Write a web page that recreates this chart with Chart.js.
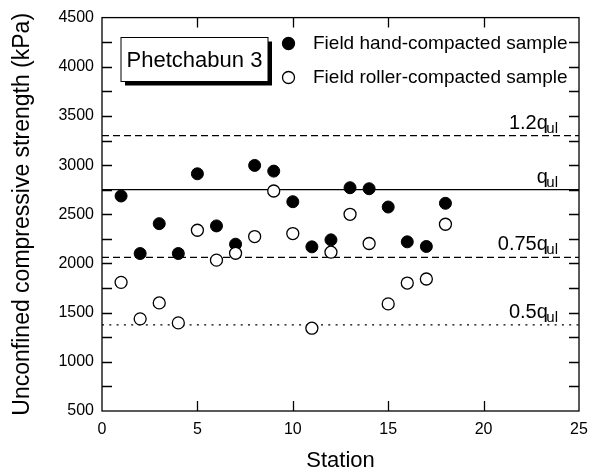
<!DOCTYPE html>
<html>
<head>
<meta charset="utf-8">
<script src="https://cdn.jsdelivr.net/npm/chart.js@4.4.1/dist/chart.umd.min.js"></script>
<style>
  html, body { margin: 0; padding: 0; background: #fff; }
  #wrap { width: 597px; height: 474px; }
</style>
</head>
<body>
<div id="wrap"><canvas id="c" width="597" height="474"></canvas></div>
<script>
// Station numbers along the road section
const stations = [1, 2, 3, 4, 5, 6, 7, 8, 9, 10, 11, 12, 13, 14, 15, 16, 17, 18];
// Unconfined compressive strength (kPa) of field samples
const handCompacted = [2686, 2101, 2405, 2101, 2912, 2382, 2196, 2997, 2939, 2628, 2169, 2240, 2770, 2760, 2574, 2220, 2173, 2612];
const rollerCompacted = [1808, 1437, 1599, 1396, 2338, 2034, 2104, 2274, 2737, 2304, 1342, 2115, 2500, 2203, 1589, 1801, 1842, 2399];
// Laboratory reference strength q_ul and the criteria drawn as horizontal lines
const qul = 2750;
const criteriaFactors = [1.2, 1, 0.75, 0.5];
const criteriaLabels = ['1.2q', 'q', '0.75q', '0.5q'];
const criteriaDash = [[7, 4], [], [7, 4], [2, 5.3]];
const siteName = 'Phetchabun 3';
const seriesNames = ['Field hand-compacted sample', 'Field roller-compacted sample'];

const FONT = "'Liberation Sans', Arial, Helvetica, sans-serif";

const toPoints = (xs, ys) => xs.map((x, i) => ({ x: x, y: ys[i] }));

const decorations = {
  id: 'decorations',
  beforeDatasetsDraw(chart) {
    const { ctx, chartArea: a, scales: { y } } = chart;
    ctx.save();
    ctx.strokeStyle = '#000';
    ctx.lineWidth = 1.3;
    criteriaFactors.forEach((f, i) => {
      const py = y.getPixelForValue(qul * f);
      ctx.setLineDash(criteriaDash[i]);
      ctx.beginPath();
      ctx.moveTo(a.left, py);
      ctx.lineTo(a.right, py);
      ctx.stroke();
    });
    ctx.setLineDash([]);
    // line labels with subscript
    criteriaFactors.forEach((f, i) => {
      const py = y.getPixelForValue(qul * f);
      const base = py - 7;
      const endX = 558;
      ctx.font = '15px ' + FONT;
      const wSub = ctx.measureText('ul').width;
      const subStart = endX - wSub;
      ctx.fillStyle = '#000';
      ctx.textAlign = 'left';
      ctx.textBaseline = 'alphabetic';
      ctx.fillText('ul', subStart, base + 4);
      ctx.font = '20px ' + FONT;
      ctx.textAlign = 'right';
      ctx.fillText(criteriaLabels[i], subStart + 1.5, base);
    });
    ctx.restore();
  },
  afterDatasetsDraw(chart) {
    const { ctx, chartArea: a, scales: { x, y } } = chart;
    ctx.save();
    ctx.strokeStyle = '#000';
    ctx.lineWidth = 1.3;
    // plot frame
    ctx.strokeRect(a.left, a.top, a.right - a.left, a.bottom - a.top);
    // inward ticks
    ctx.beginPath();
    for (let v = 750; v < 4500; v += 250) {
      const py = Math.round(y.getPixelForValue(v)) + 0.5;
      ctx.moveTo(a.left, py); ctx.lineTo(a.left + 10, py);
      ctx.moveTo(a.right, py); ctx.lineTo(a.right - 10, py);
    }
    for (let v = 5; v < 25; v += 5) {
      const px = Math.round(x.getPixelForValue(v)) + 0.5;
      ctx.moveTo(px, a.bottom); ctx.lineTo(px, a.bottom - 10);
      ctx.moveTo(px, a.top); ctx.lineTo(px, a.top + 10);
    }
    ctx.stroke();

    // site name box with drop shadow
    const bx = 121, by = 37.5, bw = 147, bh = 44;
    ctx.fillStyle = '#000';
    ctx.fillRect(bx + 4, by + 4, bw, bh);
    ctx.fillStyle = '#fff';
    ctx.fillRect(bx, by, bw, bh);
    ctx.lineWidth = 1;
    ctx.strokeRect(bx, by, bw, bh);
    ctx.fillStyle = '#000';
    ctx.font = '22px ' + FONT;
    ctx.textAlign = 'center';
    ctx.textBaseline = 'middle';
    ctx.fillText(siteName, bx + bw / 2, by + bh / 2 + 1);

    // series key
    const kx = 288.5;
    const rows = [43.5, 77.5];
    ctx.lineWidth = 1.3;
    rows.forEach((ry, i) => {
      ctx.beginPath();
      ctx.arc(kx, ry, 6, 0, Math.PI * 2);
      ctx.fillStyle = i === 0 ? '#000' : '#fff';
      ctx.fill();
      ctx.stroke();
      ctx.fillStyle = '#000';
      ctx.font = '19px ' + FONT;
      ctx.textAlign = 'left';
      ctx.textBaseline = 'middle';
      ctx.fillText(seriesNames[i], 313, ry);
    });
    ctx.restore();
  }
};

new Chart(document.getElementById('c'), {
  type: 'scatter',
  data: {
    datasets: [
      {
        label: seriesNames[0],
        data: toPoints(stations, handCompacted),
        pointRadius: 6,
        pointHoverRadius: 6,
        pointBackgroundColor: '#000',
        pointBorderColor: '#000',
        pointBorderWidth: 1,
        order: 2
      },
      {
        label: seriesNames[1],
        data: toPoints(stations, rollerCompacted),
        pointRadius: 6,
        pointHoverRadius: 6,
        pointBackgroundColor: '#fff',
        pointBorderColor: '#000',
        pointBorderWidth: 1.3,
        order: 1
      }
    ]
  },
  options: {
    responsive: false,
    animation: false,
    events: [],
    layout: { padding: { top: 15, right: 18, left: 0, bottom: 0 } },
    plugins: { legend: { display: false }, tooltip: { enabled: false } },
    scales: {
      x: {
        type: 'linear',
        min: 0, max: 25,
        afterFit(s) { s.height = 63; },
        grid: { display: false, drawTicks: false },
        border: { display: false },
        ticks: { stepSize: 5, color: '#000', padding: 9, font: { family: FONT, size: 16 }, callback: v => String(v) },
        title: { display: true, text: 'Station', color: '#000', padding: { top: 0, bottom: 0 }, font: { family: FONT, size: 22 } }
      },
      y: {
        min: 500, max: 4500,
        afterFit(s) { s.width = 102; },
        grid: { display: false, drawTicks: false },
        border: { display: false },
        ticks: { stepSize: 500, color: '#000', padding: 8, font: { family: FONT, size: 16 }, callback: v => String(v) },
        title: { display: true, text: 'Unconfined compressive strength (kPa)', color: '#000', padding: { top: 9, bottom: 0 }, font: { family: FONT, size: 23 } }
      }
    }
  },
  plugins: [decorations]
});
</script>
</body>
</html>
